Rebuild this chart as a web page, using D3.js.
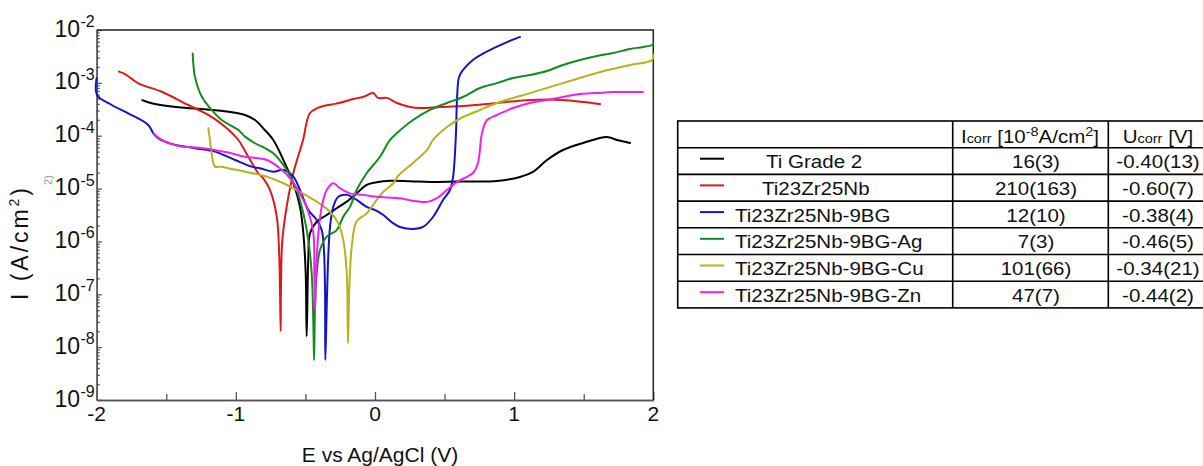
<!DOCTYPE html>
<html>
<head>
<meta charset="utf-8">
<script src="https://cdn.jsdelivr.net/npm/d3@7"></script>
<style>
  body { margin: 0; background: #fff; }
  text { font-family: "Liberation Sans", Arial, sans-serif; fill: #111; }
</style>
</head>
<body>
<svg width="1203" height="466"></svg>
<script>
// E (V vs Ag/AgCl), I (A/cm2)
const tiGrade2 = [
  [-1.672, 4.7e-4], [-1.605, 4.1e-4], [-1.414, 3.45e-4], [-1.222, 3.16e-4], [-1.054, 2.85e-4],
  [-0.934, 2.47e-4], [-0.862, 1.98e-4], [-0.803, 1.38e-4], [-0.731, 8.3e-5], [-0.659, 3.5e-5],
  [-0.587, 1.26e-5], [-0.539, 4.5e-6], [-0.515, 1.43e-6], [-0.498, 2.5e-7], [-0.491, 1.6e-8],
  [-0.479, 5.1e-7], [-0.467, 1.43e-6], [-0.419, 2.36e-6], [-0.347, 3.16e-6], [-0.275, 4.24e-6],
  [-0.203, 5.65e-6], [-0.132, 8.1e-6], [-0.060, 1.17e-5], [0.012, 1.32e-5], [0.108, 1.41e-5],
  [0.25, 1.38e-5], [0.395, 1.33e-5], [0.6, 1.36e-5], [0.877, 1.39e-5], [1.042, 1.66e-5],
  [1.135, 2.06e-5], [1.236, 3.47e-5], [1.351, 5.37e-5], [1.495, 7.3e-5], [1.667, 9.5e-5],
  [1.739, 8.3e-5], [1.833, 7.3e-5]
];
const ti23Zr25Nb = [
  [-1.840, 1.63e-3], [-1.797, 1.47e-3], [-1.701, 9.8e-4], [-1.533, 6.8e-4], [-1.342, 3.81e-4],
  [-1.198, 2.47e-4], [-1.078, 1.48e-4], [-0.982, 8.3e-5], [-0.911, 4.0e-5], [-0.839, 1.95e-5],
  [-0.803, 1.56e-5], [-0.755, 9.4e-6], [-0.706, 2.94e-6], [-0.688, 5.1e-7], [-0.678, 2.0e-8],
  [-0.676, 1.2e-7], [-0.666, 1.06e-6], [-0.635, 4.5e-6], [-0.587, 1.95e-5], [-0.517, 8.3e-5],
  [-0.467, 2.69e-4], [-0.395, 3.49e-4], [-0.31, 3.9e-4], [-0.251, 4.2e-4], [-0.158, 4.95e-4],
  [-0.086, 5.4e-4], [-0.014, 6.4e-4], [0.022, 5.2e-4], [0.086, 5.2e-4], [0.158, 4.16e-4],
  [0.252, 3.49e-4], [0.323, 3.34e-4], [0.467, 3.49e-4], [0.632, 3.65e-4], [0.877, 4.16e-4],
  [1.114, 4.74e-4], [1.351, 4.74e-4], [1.495, 4.35e-4], [1.617, 3.98e-4]
];
const ti9BG = [
  [-2.0, 1.24e-3], [-1.998, 5.9e-4], [-1.892, 3.81e-4], [-1.773, 2.65e-4], [-1.629, 1.6e-4],
  [-1.593, 1.11e-4], [-1.557, 8.9e-5], [-1.461, 7.0e-5], [-1.294, 5.8e-5], [-1.150, 5.0e-5],
  [-1.006, 3.47e-5], [-0.886, 2.6e-5], [-0.826, 2.42e-5], [-0.731, 2.09e-5], [-0.659, 2.25e-5],
  [-0.587, 1.68e-5], [-0.539, 9.4e-6], [-0.479, 3.93e-6], [-0.419, 2.55e-6], [-0.383, 1.64e-6],
  [-0.367, 6.9e-7], [-0.359, 1.2e-7], [-0.357, 5.7e-9], [-0.347, 5.8e-8], [-0.336, 5.1e-7],
  [-0.323, 1.9e-6], [-0.300, 4.5e-6], [-0.264, 7.0e-6], [-0.203, 7.6e-6], [-0.132, 6.1e-6],
  [-0.060, 4.5e-6], [0.012, 3.8e-6], [0.060, 3.16e-6], [0.132, 2.2e-6], [0.180, 1.88e-6],
  [0.273, 1.72e-6], [0.345, 1.88e-6], [0.417, 2.9e-6], [0.489, 6.1e-6], [0.539, 9.4e-6],
  [0.561, 1.66e-5], [0.582, 1.12e-4], [0.589, 4.7e-4], [0.604, 1.29e-3], [0.632, 1.75e-3],
  [0.704, 2.71e-3], [0.826, 4.18e-3], [0.949, 5.9e-3], [1.042, 7.4e-3]
];
const ti9BGAg = [
  [-1.310, 3.6e-3], [-1.294, 1.31e-3], [-1.245, 5.5e-4], [-1.174, 3.07e-4], [-1.102, 1.98e-4],
  [-0.982, 1.28e-4], [-0.934, 9.6e-5], [-0.862, 7.2e-5], [-0.790, 5.8e-5], [-0.731, 4.65e-5],
  [-0.635, 2.25e-5], [-0.563, 9.4e-6], [-0.515, 3.4e-6], [-0.479, 1.06e-6], [-0.455, 2.5e-7],
  [-0.443, 2.8e-8], [-0.438, 5.7e-9], [-0.431, 5.8e-8], [-0.419, 2.5e-7], [-0.395, 6.9e-7],
  [-0.347, 1.23e-6], [-0.275, 1.64e-6], [-0.228, 2.94e-6], [-0.180, 4.5e-6], [-0.132, 9.4e-6],
  [-0.060, 1.95e-5], [0.036, 4.0e-5], [0.108, 8.3e-5], [0.158, 1.12e-4], [0.273, 1.98e-4],
  [0.395, 3.07e-4], [0.517, 4.16e-4], [0.632, 5.4e-4], [0.755, 8.0e-4], [0.877, 9.9e-4],
  [0.992, 1.24e-3], [1.114, 1.41e-3], [1.236, 1.68e-3], [1.351, 2.18e-3], [1.473, 2.71e-3],
  [1.595, 3.22e-3], [1.710, 3.67e-3], [1.833, 4.37e-3], [1.926, 4.77e-3], [1.991, 5.2e-3],
  [2.0, 5.6e-3]
];
const ti9BGCu = [
  [-1.198, 1.38e-4], [-1.186, 8.3e-5], [-1.174, 4.65e-5], [-1.150, 2.6e-5], [-1.102, 2.6e-5],
  [-1.054, 2.42e-5], [-0.934, 2.09e-5], [-0.778, 1.68e-5], [-0.659, 1.26e-5], [-0.539, 8.7e-6],
  [-0.419, 5.65e-6], [-0.323, 3.65e-6], [-0.264, 2.2e-6], [-0.228, 1.06e-6], [-0.203, 2.5e-7],
  [-0.194, 1.18e-8], [-0.185, 1.2e-7], [-0.167, 8.0e-7], [-0.132, 2.4e-6], [-0.060, 3.4e-6],
  [0.012, 6.1e-6], [0.060, 8.7e-6], [0.132, 1.26e-5], [0.165, 1.73e-5], [0.273, 3.05e-5],
  [0.374, 5.37e-5], [0.417, 8.3e-5], [0.517, 1.46e-4], [0.632, 2.26e-4], [0.755, 3.07e-4],
  [0.877, 4.16e-4], [1.114, 6.4e-4], [1.351, 9.9e-4], [1.595, 1.54e-3], [1.833, 2.18e-3],
  [1.991, 2.71e-3], [2.0, 3.4e-3]
];
const ti9BGZn = [
  [-1.59, 1.1e-4], [-1.533, 8.3e-5], [-1.414, 6.4e-5], [-1.294, 6.0e-5], [-1.174, 5.5e-5],
  [-1.054, 4.8e-5], [-0.934, 4.0e-5], [-0.778, 3.47e-5], [-0.683, 2.42e-5], [-0.611, 1.56e-5],
  [-0.539, 8.1e-6], [-0.479, 3.65e-6], [-0.443, 1.43e-6], [-0.436, 2.5e-7], [-0.431, 5.0e-8],
  [-0.424, 2.5e-7], [-0.407, 1.43e-6], [-0.383, 4.5e-6], [-0.347, 9.4e-6], [-0.300, 1.26e-5],
  [-0.251, 1.01e-5], [-0.180, 8.1e-6], [-0.084, 7.6e-6], [0.012, 7.0e-6], [0.158, 6.6e-6],
  [0.374, 5.6e-6], [0.446, 6.6e-6], [0.517, 9.4e-6], [0.589, 1.33e-5], [0.704, 1.97e-5],
  [0.740, 3.05e-5], [0.769, 1.12e-4], [0.805, 1.98e-4], [0.877, 2.47e-4], [0.992, 3.34e-4],
  [1.114, 4.16e-4], [1.236, 4.74e-4], [1.351, 5.4e-4], [1.473, 6.15e-4], [1.595, 6.43e-4],
  [1.710, 6.7e-4], [1.926, 6.7e-4]
];

const seriesData = [tiGrade2, ti23Zr25Nb, ti9BG, ti9BGAg, ti9BGCu, ti9BGZn];
const seriesNames = ['Ti Grade 2', 'Ti23Zr25Nb', 'Ti23Zr25Nb-9BG', 'Ti23Zr25Nb-9BG-Ag',
  'Ti23Zr25Nb-9BG-Cu', 'Ti23Zr25Nb-9BG-Zn'];
const seriesColors = ['#000000', '#e01818', '#1414c8', '#168a22', '#b4b41c', '#ee22ee'];
const icorrValues = ['16(3)', '210(163)', '12(10)', '7(3)', '101(66)', '47(7)'];
const ucorrValues = ['-0.40(13)', '-0.60(7)', '-0.38(4)', '-0.46(5)', '-0.34(21)', '-0.44(2)'];

const xTicks = [-2, -1, 0, 1, 2];
const xHalfTicks = [-1.5, -0.5, 0.5, 1.5];
const yExponents = [-9, -8, -7, -6, -5, -4, -3, -2];

const svg = d3.select('svg');
const plot = { left: 96.7, right: 653.3, top: 30, bottom: 400 };

const x = d3.scaleLinear().domain([-2, 2]).range([plot.left, plot.right]);
const y = d3.scaleLog().domain([1e-9, 1e-2]).range([plot.bottom, plot.top]);

const yMajor = yExponents.map(e => Math.pow(10, e));
const yMinor = [];
yExponents.slice(0, -1).forEach(e => {
  for (let k = 2; k <= 9; k++) yMinor.push(k * Math.pow(10, e));
});

// axes (ticks point inward)
const styleAxis = g => {
  g.select('.domain').attr('stroke', '#555').attr('stroke-width', 1.5);
  g.selectAll('.tick line').attr('stroke', '#555').attr('stroke-width', 1.3);
  g.selectAll('.tick text').remove();
};

svg.append('g')
  .attr('transform', `translate(${plot.left},0)`)
  .call(d3.axisLeft(y).tickValues(yMinor).tickSizeInner(-3).tickSizeOuter(0))
  .call(styleAxis);
svg.append('g')
  .attr('transform', `translate(${plot.left},0)`)
  .call(d3.axisLeft(y).tickValues(yMajor).tickSizeInner(-5).tickSizeOuter(0))
  .call(styleAxis);
svg.append('g')
  .attr('transform', `translate(0,${plot.bottom})`)
  .call(d3.axisBottom(x).tickValues(xHalfTicks).tickSizeInner(-6).tickSizeOuter(0))
  .call(styleAxis);
svg.append('g')
  .attr('transform', `translate(0,${plot.bottom})`)
  .call(d3.axisBottom(x).tickValues(xTicks).tickSizeInner(-8).tickSizeOuter(0))
  .call(styleAxis);

// top and right frame
svg.append('path')
  .attr('d', `M${plot.left},${plot.top}H${plot.right}V${plot.bottom}`)
  .attr('fill', 'none')
  .attr('stroke', '#222')
  .attr('stroke-width', 1.5);

// y tick labels 10^n
const yLab = svg.append('g');
yExponents.forEach(e => {
  const yy = y(Math.pow(10, e));
  yLab.append('text')
    .attr('x', 80).attr('y', yy + 6.5)
    .attr('text-anchor', 'end')
    .attr('font-size', 23)
    .text('10');
  yLab.append('text')
    .attr('x', 80.5).attr('y', yy - 3)
    .attr('font-size', 16)
    .text(String(e));
});

// x tick labels
svg.append('g').selectAll('text').data(xTicks)
  .enter().append('text')
  .attr('x', d => x(d))
  .attr('y', 421)
  .attr('text-anchor', 'middle')
  .attr('font-size', 21)
  .text(d => String(d));

// axis titles
svg.append('text')
  .attr('x', 380).attr('y', 462)
  .attr('text-anchor', 'middle')
  .attr('font-size', 21)
  .text('E vs Ag/AgCl (V)');

const yTitle = svg.append('text')
  .attr('transform', 'translate(28,244) rotate(-90)')
  .attr('text-anchor', 'middle')
  .attr('font-size', 23)
  .attr('textLength', 112)
  .attr('lengthAdjust', 'spacing');
yTitle.append('tspan').text('I (A/cm');
yTitle.append('tspan').attr('font-size', 14).attr('dy', -9).text('2');
yTitle.append('tspan').attr('dy', 9).text(')');

svg.append('text')
  .attr('transform', 'translate(52,180) rotate(-90)')
  .attr('text-anchor', 'middle')
  .attr('font-size', 11)
  .style('fill', '#999')
  .text('2)');

// curves
const line = d3.line()
  .x(d => x(d[0]))
  .y(d => y(d[1]))
  .curve(d3.curveCatmullRom.alpha(0.5));

svg.append('g').selectAll('path').data(seriesData)
  .enter().append('path')
  .attr('d', line)
  .attr('fill', 'none')
  .attr('stroke', (d, i) => seriesColors[i])
  .attr('stroke-width', 2)
  .attr('stroke-linejoin', 'round')
  .attr('stroke-linecap', 'round');

// table with legend
const table = { top: 121, rowH: 26.7, cols: [677.7, 952.7, 1108.3, 1210] };
const labelX = [766, 762, 735, 735, 735, 735];
const nRows = seriesNames.length + 1;
const tableG = svg.append('g');

tableG.append('rect')
  .attr('x', table.cols[0]).attr('y', table.top)
  .attr('width', table.cols[3] - table.cols[0])
  .attr('height', table.rowH * nRows)
  .attr('fill', 'none').attr('stroke', '#000').attr('stroke-width', 1.6);

tableG.selectAll('line.h').data(d3.range(1, nRows))
  .enter().append('line')
  .attr('x1', table.cols[0]).attr('x2', table.cols[3])
  .attr('y1', i => table.top + i * table.rowH)
  .attr('y2', i => table.top + i * table.rowH)
  .attr('stroke', '#000').attr('stroke-width', 1.6);

tableG.selectAll('line.v').data([table.cols[1], table.cols[2]])
  .enter().append('line')
  .attr('x1', d => d).attr('x2', d => d)
  .attr('y1', table.top).attr('y2', table.top + table.rowH * nRows)
  .attr('stroke', '#000').attr('stroke-width', 1.6);

const cellText = (tx, ty, anchor) => tableG.append('text')
  .attr('transform', `translate(${tx},${ty}) scale(1.11,1)`)
  .attr('text-anchor', anchor)
  .attr('font-size', 18.5);

const h1 = cellText(1030, table.top + 22, 'middle');
h1.append('tspan').text('I');
h1.append('tspan').attr('font-size', 13).text('corr');
h1.append('tspan').text(' [10');
h1.append('tspan').attr('font-size', 13).attr('dy', -7).text('-8');
h1.append('tspan').attr('dy', 7).text('A/cm');
h1.append('tspan').attr('font-size', 13).attr('dy', -7).text('2');
h1.append('tspan').attr('dy', 7).text(']');

const h2 = cellText(1158, table.top + 22, 'middle');
h2.append('tspan').text('U');
h2.append('tspan').attr('font-size', 13).text('corr');
h2.append('tspan').text(' [V]');

seriesNames.forEach((name, i) => {
  const rowTop = table.top + (i + 1) * table.rowH;
  tableG.append('line')
    .attr('x1', 700).attr('x2', 724)
    .attr('y1', rowTop + 11).attr('y2', rowTop + 11)
    .attr('stroke', seriesColors[i]).attr('stroke-width', 2);
  cellText(labelX[i], rowTop + 20.5, 'start').text(name);
  cellText(1036, rowTop + 20.5, 'middle').text(icorrValues[i]);
  cellText(1158, rowTop + 20.5, 'middle').text(ucorrValues[i]);
});
</script>
</body>
</html>
